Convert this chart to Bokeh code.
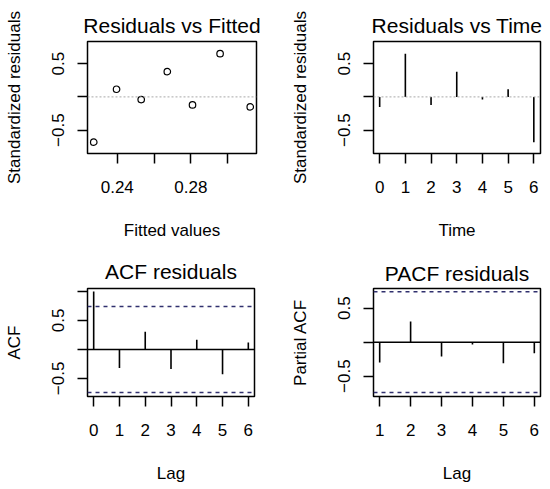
from bokeh.plotting import figure
from bokeh.models import Range1d, FixedTicker, Span
from bokeh.layouts import column, row
from bokeh.embed import file_html
from bokeh.resources import INLINE

# ---- data ----
time_idx = [0, 1, 2, 3, 4, 5, 6]
fitted_vals = [0.3123, 0.2959, 0.2809, 0.2672, 0.2530, 0.2396, 0.2272]
std_resid = [-0.15, 0.65, -0.12, 0.38, -0.04, 0.115, -0.68]
acf_lags = [0, 1, 2, 3, 4, 5, 6]
acf_vals = [1.0, -0.32, 0.305, -0.34, 0.165, -0.43, 0.12]
pacf_lags = [1, 2, 3, 4, 5, 6]
pacf_vals = [-0.30, 0.305, -0.21, -0.035, -0.31, -0.165]
ci_bound = 0.741

fitted_ticks = [0.24, 0.26, 0.28, 0.30]
fitted_tick_labels = {0.24: "0.24", 0.26: "", 0.28: "0.28", 0.30: ""}
resid_ticks = [-0.5, 0.0, 0.5]
resid_tick_labels = {0.0: ""}
acf_yticks = [-0.5, 0.0, 0.5, 1.0]
acf_ytick_labels = {0.0: "", 1.0: ""}

FONT = "Liberation Sans"
CI_COLOR = "#30306e"


def make_fig(title, xr, yr, width, height, bl, br, bt, bb,
             xlabel, ylabel, xticks, yticks, xover=None, yover=None,
             title_standoff=9):
    p = figure(width=width, height=height,
               x_range=Range1d(*xr), y_range=Range1d(*yr),
               output_backend="svg", toolbar_location=None,
               min_border_left=bl, min_border_right=br,
               min_border_top=bt, min_border_bottom=bb,
               background_fill_color="white", border_fill_color="white")
    p.title.text = title
    p.title.align = "center"
    p.title.text_font = FONT
    p.title.text_font_size = "21px"
    p.title.text_font_style = "normal"
    p.title.text_color = "black"
    p.title.standoff = title_standoff
    p.grid.visible = False
    p.outline_line_color = "black"
    p.outline_line_width = 1.5
    p.outline_line_alpha = 1.0

    xa = p.xaxis[0]
    ya = p.yaxis[0]
    xa.ticker = FixedTicker(ticks=xticks)
    ya.ticker = FixedTicker(ticks=yticks)
    if xover:
        xa.major_label_overrides = xover
    if yover:
        ya.major_label_overrides = yover
    xa.axis_label = xlabel
    ya.axis_label = ylabel
    for ax in (xa, ya):
        ax.axis_line_color = None
        ax.major_tick_in = 0
        ax.major_tick_out = 10
        ax.major_tick_line_width = 1.5
        ax.major_tick_line_color = "black"
        ax.minor_tick_line_color = None
        ax.major_label_text_font = FONT
        ax.major_label_text_font_size = "17px"
        ax.major_label_text_color = "black"
        ax.axis_label_text_font = FONT
        ax.axis_label_text_font_size = "17px"
        ax.axis_label_text_font_style = "normal"
        ax.axis_label_text_color = "black"
    xa.major_label_standoff = 17
    xa.axis_label_standoff = 25
    ya.major_label_orientation = "vertical"
    ya.major_label_standoff = 13
    ya.axis_label_standoff = 26
    return p


# Residuals vs Fitted
p1 = make_fig("Residuals vs Fitted", (0.2238, 0.3157), (-0.851, 0.833),
              275, 245, 87, 19, 41, 92,
              "Fitted values", "Standardized residuals",
              fitted_ticks, resid_ticks, fitted_tick_labels, resid_tick_labels,
              title_standoff=9)
p1.add_layout(Span(location=0, dimension="width", line_color="#a8a8a8",
                   line_dash="2 2", line_width=1))
p1.scatter(fitted_vals, std_resid, marker="circle", size=6.5,
           fill_color=None, line_color="black", line_width=1.2)

# Residuals vs Time
p2 = make_fig("Residuals vs Time", (-0.24, 6.26), (-0.851, 0.833),
              275, 245, 98, 10, 41, 92,
              "Time", "Standardized residuals",
              time_idx, resid_ticks, None, resid_tick_labels,
              title_standoff=9)
p2.add_layout(Span(location=0, dimension="width", line_color="#a8a8a8",
                   line_dash="2 2", line_width=1))
p2.segment(x0=time_idx, y0=[0] * len(time_idx), x1=time_idx, y1=std_resid,
           line_color="black", line_width=1.6)

# ACF residuals
p3 = make_fig("ACF residuals", (-0.24, 6.24), (-0.812, 1.05),
              275, 244, 87, 21, 43, 92,
              "Lag", "ACF",
              acf_lags, acf_yticks, None, acf_ytick_labels,
              title_standoff=11)
p3.add_layout(Span(location=0, dimension="width", line_color="black", line_width=1.5))
for c in (ci_bound, -ci_bound):
    p3.add_layout(Span(location=c, dimension="width", line_color=CI_COLOR,
                       line_dash="4 4", line_width=1.5))
p3.segment(x0=acf_lags, y0=[0] * len(acf_lags), x1=acf_lags, y1=acf_vals,
           line_color="black", line_width=1.6)

# PACF residuals
p4 = make_fig("PACF residuals", (0.8, 6.2), (-0.80, 0.79),
              275, 244, 98, 10, 39, 93,
              "Lag", "Partial ACF",
              pacf_lags, resid_ticks, None, resid_tick_labels,
              title_standoff=8)
p4.add_layout(Span(location=0, dimension="width", line_color="black", line_width=1.5))
for c in (ci_bound, -ci_bound):
    p4.add_layout(Span(location=c, dimension="width", line_color=CI_COLOR,
                       line_dash="4 4", line_width=1.5))
p4.segment(x0=pacf_lags, y0=[0] * len(pacf_lags), x1=pacf_lags, y1=pacf_vals,
           line_color="black", line_width=1.6)

layout = column(row(p1, p2), row(p3, p4))
open("out.html", "w").write(file_html(layout, INLINE))
